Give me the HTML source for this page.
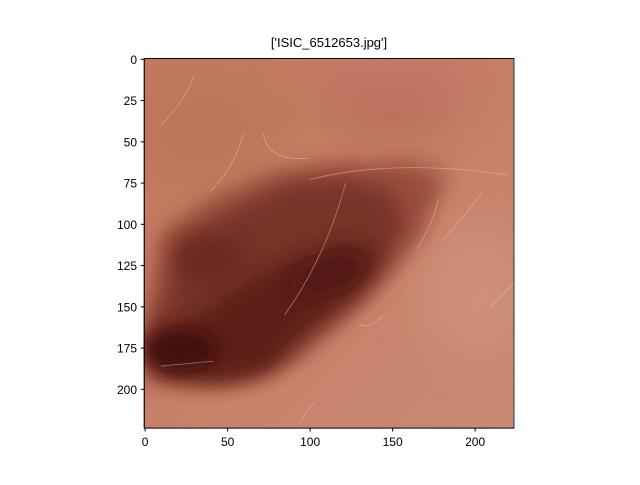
<!DOCTYPE html>
<html><head><meta charset="utf-8"><style>
body{margin:0;background:#fff;width:640px;height:480px;overflow:hidden;font-family:"Liberation Sans","DejaVu Sans",sans-serif}
</style></head><body>
<svg id="chart" width="640" height="480" xmlns="http://www.w3.org/2000/svg">
<defs>
<filter id="b8" x="-30%" y="-30%" width="160%" height="160%"><feGaussianBlur stdDeviation="6"/></filter>
<filter id="b4" x="-30%" y="-30%" width="160%" height="160%"><feGaussianBlur stdDeviation="4"/></filter>
<filter id="b14" x="-50%" y="-50%" width="200%" height="200%"><feGaussianBlur stdDeviation="14"/></filter>
<clipPath id="clip"><rect x="-0.5" y="-0.5" width="224" height="224"/></clipPath>
<linearGradient id="bg" x1="0" y1="0" x2="1" y2="1">
<stop offset="0" stop-color="#c07a5f"/><stop offset="0.5" stop-color="#c78068"/><stop offset="1" stop-color="#c98a72"/>
</linearGradient>
</defs>
<text x="329" y="47" font-size="13" text-anchor="middle" fill="#000">['ISIC_6512653.jpg']</text>
<g transform="translate(144.3,59.3) scale(1.65)" clip-path="url(#clip)">
<rect x="-0.5" y="-0.5" width="224" height="224" fill="url(#bg)"/>
<ellipse cx="40" cy="45" rx="45" ry="35" fill="#b97255" filter="url(#b14)" opacity="0.6"/>
<ellipse cx="150" cy="10" rx="60" ry="20" fill="#c47566" filter="url(#b14)" opacity="0.6"/>
<ellipse cx="200" cy="140" rx="35" ry="40" fill="#d49a82" filter="url(#b14)" opacity="0.5"/>
<ellipse cx="150" cy="35" rx="40" ry="15" fill="#b06450" filter="url(#b14)" opacity="0.5"/>
<ellipse cx="160" cy="72" rx="25" ry="12" fill="#a0553f" filter="url(#b8)" opacity="0.6"/>
<polygon fill="#94493a" filter="url(#b8)" opacity="0.9" points="10,105 40,85 80,68 120,62 160,66 180,75 170,105 150,130 120,160 90,185 55,195 20,197 0,192 0,160"/>
<polygon fill="#743028" filter="url(#b8)" opacity="0.92" points="20,110 50,93 85,76 120,72 150,80 158,100 145,125 125,145 95,170 70,192 40,197 5,192 0,168 15,140"/>
<polygon fill="#581c19" filter="url(#b8)" opacity="0.9" points="55,140 90,120 120,110 142,116 132,140 100,162 75,188 45,194 10,190 0,172 25,160"/>
<ellipse cx="22" cy="176" rx="22" ry="13" fill="#420f0f" filter="url(#b4)" opacity="0.85"/>
<ellipse cx="112" cy="130" rx="22" ry="9" fill="#511717" filter="url(#b8)" opacity="0.8" transform="rotate(-20 112 130)"/>
<ellipse cx="40" cy="122" rx="22" ry="14" fill="#65261f" filter="url(#b8)" opacity="0.7"/>
<g stroke="#e8c0b0" stroke-width="0.5" fill="none" opacity="0.55">
<path d="M85,155 Q110,120 122,75"/>
<path d="M10,186 Q30,184 42,183"/>
<path d="M72,45 Q75,62 100,60"/>
<path d="M100,73 Q150,60 220,70"/>
<path d="M180,110 Q195,95 205,80"/>
<path d="M165,115 Q175,100 178,85"/>
<path d="M40,80 Q55,65 60,45"/>
<path d="M93,223 Q98,213 103,208"/>
<path d="M10,40 Q25,25 30,10"/>
<path d="M210,150 Q220,140 224,135"/>
<path d="M130,160 Q135,165 145,155"/>
</g>
</g>
<rect x="144.3" y="58.5" width="369.6" height="369.6" fill="none" stroke="#000" stroke-width="1"/>
<g id="xticks"></g>
<g id="yticks"></g>
</svg>
<script>
const xTicks=[0,50,100,150,200];
const yTicks=[0,25,50,75,100,125,150,175,200];
const x0=144.3,y0=58.5,s=1.65;
const xs=v=>x0+(v+0.5)*s, ys=v=>y0+(v+0.5)*s;
const NS="http://www.w3.org/2000/svg";
const gx=document.getElementById('xticks'),gy=document.getElementById('yticks');
xTicks.forEach(v=>{
 const l=document.createElementNS(NS,'line');
 
 
 l.setAttribute('x1',xs(v));l.setAttribute('x2',xs(v));l.setAttribute('y1',428);l.setAttribute('y2',431.5);l.setAttribute('stroke','#000');gx.appendChild(l);
 const t=document.createElementNS(NS,'text');
 
 
 t.setAttribute('x',xs(v));t.setAttribute('y',446);t.setAttribute('font-size','12');t.setAttribute('text-anchor','middle');t.textContent=v;gx.appendChild(t);
});
yTicks.forEach(v=>{
 const l=document.createElementNS(NS,'line');
 
 
 l.setAttribute('x1',140.8);l.setAttribute('x2',144.3);l.setAttribute('y1',ys(v));l.setAttribute('y2',ys(v));l.setAttribute('stroke','#000');gy.appendChild(l);
 const t=document.createElementNS(NS,'text');
 
 
 t.setAttribute('x',137);t.setAttribute('y',ys(v)+4.5);t.setAttribute('font-size','12');t.setAttribute('text-anchor','end');t.textContent=v;gy.appendChild(t);
});
</script>
</body></html>
